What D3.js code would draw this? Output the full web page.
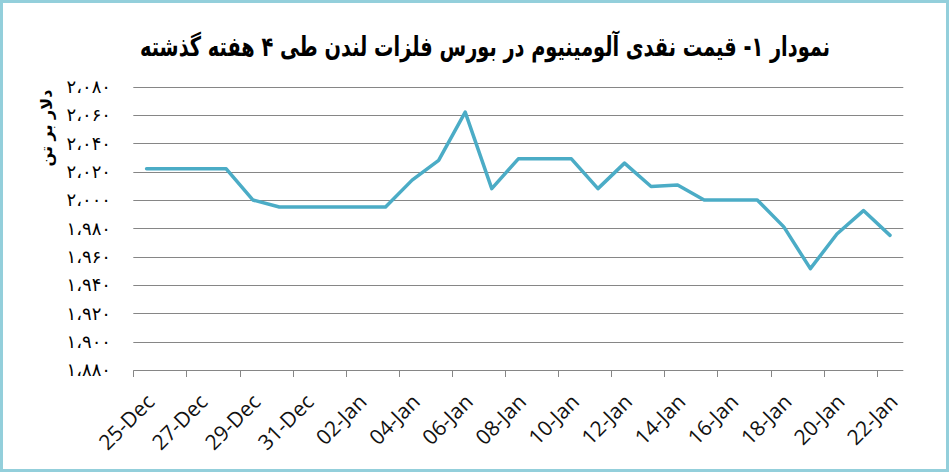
<!DOCTYPE html>
<html><head><meta charset="utf-8">
<script src="https://cdn.jsdelivr.net/npm/d3@7"></script>
<style>
html,body{margin:0;padding:0;background:#fff;}
svg{display:block;}
</style>
</head><body>
<svg id="chart" width="949" height="472"></svg>
<script>
const titleText = "نمودار ۱- قیمت نقدی آلومینیوم در بورس فلزات لندن طی ۴ هفته گذشته";
const yAxisTitle = "دلار بر تن";
const categories = ["25-Dec","26-Dec","27-Dec","28-Dec","29-Dec","30-Dec","31-Dec",
  "01-Jan","02-Jan","03-Jan","04-Jan","05-Jan","06-Jan","07-Jan","08-Jan","09-Jan",
  "10-Jan","11-Jan","12-Jan","13-Jan","14-Jan","15-Jan","16-Jan","17-Jan","18-Jan",
  "19-Jan","20-Jan","21-Jan","22-Jan"];
const prices = [2022,2022,2022,2022,2000,1995,1995,1995,1995,1995,2014,2028,2062,2008,
  2029,2029,2029,2008,2026,2009.5,2010.5,2000,2000,2000,1981,1951.5,1976,1992.5,1975];
const yTicks = [1880,1900,1920,1940,1960,1980,2000,2020,2040,2060,2080];
const yTickLabels = ["۱،۸۸۰","۱،۹۰۰","۱،۹۲۰","۱،۹۴۰","۱،۹۶۰","۱،۹۸۰","۲،۰۰۰","۲،۰۲۰","۲،۰۴۰","۲،۰۶۰","۲،۰۸۰"];

const W = 949, H = 472;
const plot = {left: 133.3, right: 903.3, top: 86.6, bottom: 370};
const svg = d3.select("#chart");

// outer border
svg.append("rect").attr("x",1.5).attr("y",1.5).attr("width",W-3).attr("height",H-3)
  .attr("fill","#fff").attr("stroke","#93CFDB").attr("stroke-width",3);

const x = d3.scaleBand().domain(categories).range([plot.left, plot.right]).padding(0);
const y = d3.scaleLinear().domain([1880, 2080]).range([plot.bottom, plot.top]);

// gridlines
svg.append("g").selectAll("line").data(yTicks).join("line")
  .attr("x1", plot.left).attr("x2", plot.right)
  .attr("y1", d => Math.round(y(d)) + 0.5).attr("y2", d => Math.round(y(d)) + 0.5)
  .attr("stroke", "#868686").attr("stroke-width", 1);

// y tick labels
svg.append("g").selectAll("text").data(yTicks).join("text")
  .attr("x", 111).attr("y", d => y(d)).attr("dy", "0.35em")
  .attr("text-anchor", "end")
  .attr("font-family", "DejaVu Sans").attr("font-size", 18).attr("fill", "#000")
  .text((d, i) => yTickLabels[i]);

// x tick marks at every second category boundary
const tickIdx = d3.range(0, categories.length + 1, 2);
svg.append("g").selectAll("line").data(tickIdx).join("line")
  .attr("x1", i => Math.round(i < categories.length ? x(categories[i]) : plot.right) + 0.5)
  .attr("x2", i => Math.round(i < categories.length ? x(categories[i]) : plot.right) + 0.5)
  .attr("y1", Math.round(plot.bottom) + 0.5).attr("y2", Math.round(plot.bottom) + 7)
  .attr("stroke", "#868686").attr("stroke-width", 1);

// x labels
const labelCats = categories.filter((c, i) => i % 2 === 0);
svg.append("g").selectAll("text").data(labelCats).join("text")
  .attr("transform", d => `translate(${x(d) + x.bandwidth()/2 + 4},${398}) rotate(-45)`)
  .attr("text-anchor", "end").attr("dy", "0.35em")
  .attr("font-family", "Open Sans").attr("font-size", 21).attr("fill", "#111")
  .text(d => d);

// line
const line = d3.line()
  .x((d, i) => x(categories[i]) + x.bandwidth()/2)
  .y(d => y(d));
svg.append("path").datum(prices).attr("d", line)
  .attr("fill", "none").attr("stroke", "#4BACC6").attr("stroke-width", 3.5)
  .attr("stroke-linejoin", "round").attr("stroke-linecap", "round");

// title
svg.append("text").attr("x", 485).attr("y", 56)
  .attr("text-anchor", "middle").attr("direction", "rtl")
  .attr("font-family", "DejaVu Sans").attr("font-weight", "bold").attr("font-size", 27)
  .attr("textLength", 690).attr("lengthAdjust", "spacingAndGlyphs")
  .attr("fill", "#000").text(titleText);

// y axis title
svg.append("text").attr("transform", "translate(46,128) rotate(-90)")
  .attr("text-anchor", "middle").attr("direction", "rtl").attr("dy", "0.35em")
  .attr("font-family", "DejaVu Sans").attr("font-weight", "bold").attr("font-size", 16)
  .attr("fill", "#000").text(yAxisTitle);
</script>
</body></html>
